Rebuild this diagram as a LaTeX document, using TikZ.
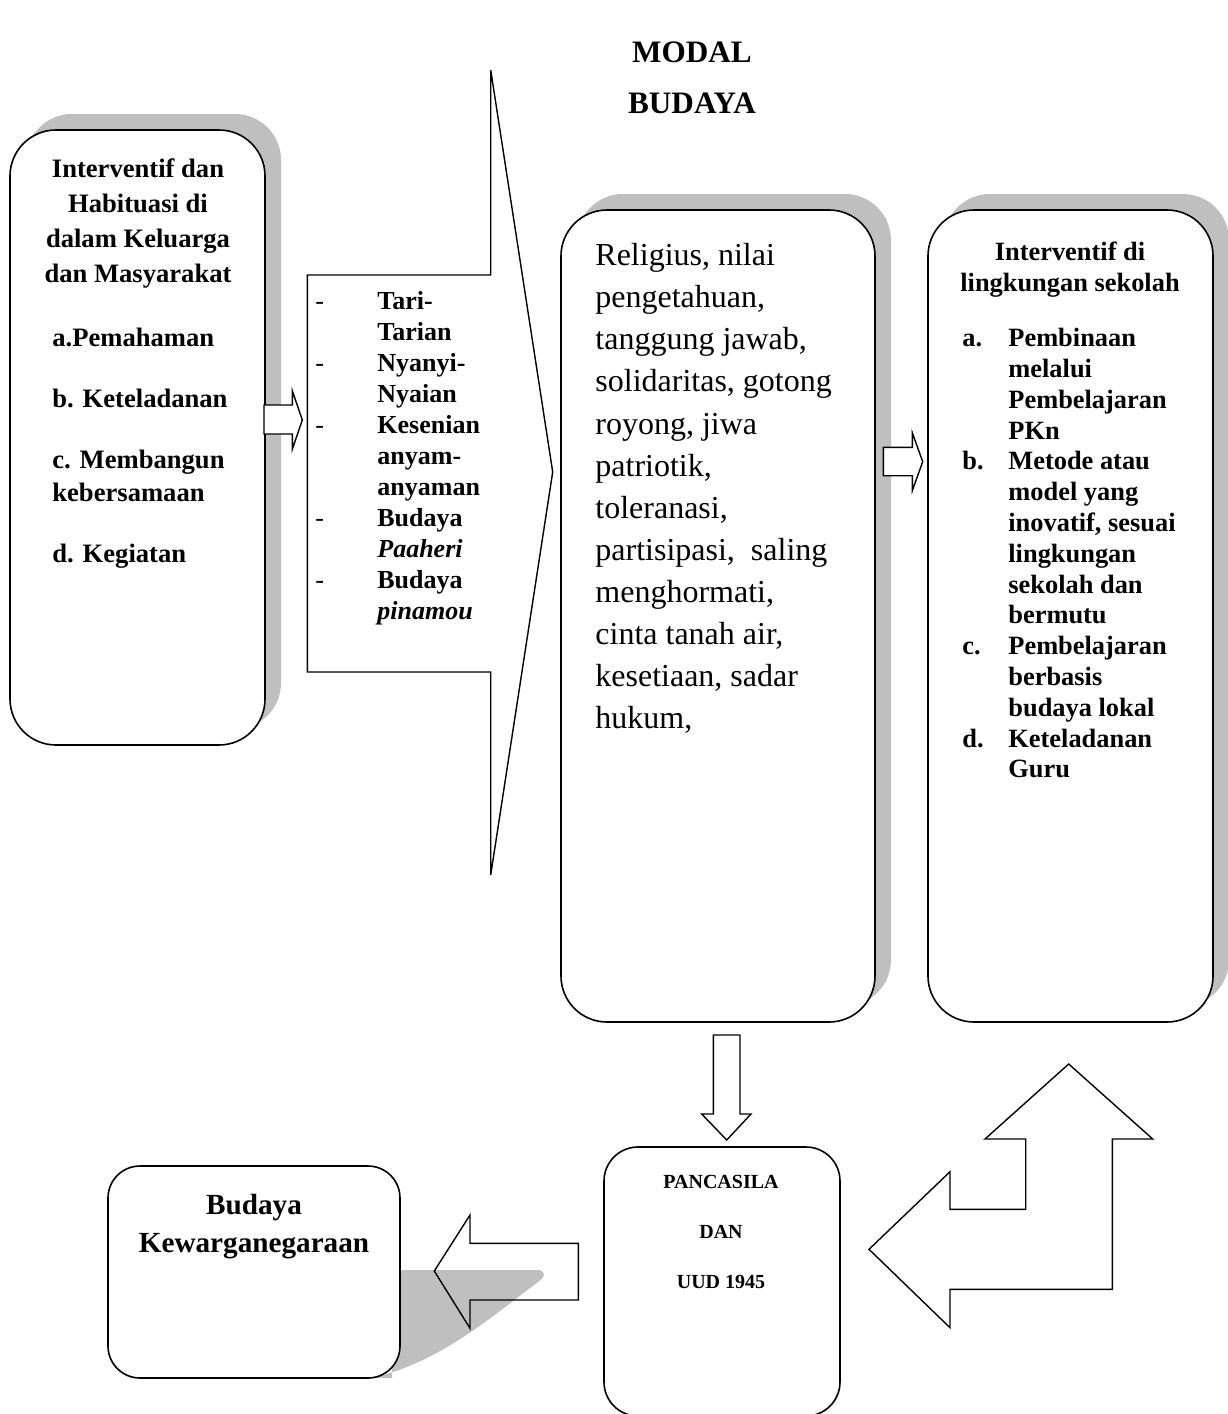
\documentclass[tikz,border=0pt]{standalone}
\usepackage{fontspec}
\setmainfont{Liberation Serif}
\usetikzlibrary{shadows}

\newcommand{\tandaitem}{\makebox[31pt][l]{\mdseries -}}
\newcommand{\labelitem}[1]{\makebox[23pt][l]{#1}}

\begin{document}
\begin{tikzpicture}[x=0.5pt, y=-0.5pt,
    kotak/.style={rectangle, rounded corners=23pt, draw, line width=0.8pt, fill=white,
      drop shadow={shadow xshift=8pt, shadow yshift=8pt, opacity=1, fill=black!25}},
    kotakpolos/.style={rectangle, rounded corners=16pt, draw, line width=0.8pt, fill=white},
    panah/.style={draw, line width=0.7pt, line join=miter},
    teks/.style={inner sep=0pt, font=\fontsize{13.3}{17.5}\selectfont\bfseries}
  ]
    \useasboundingbox (0,0) rectangle (1227,1414);

    % Judul
    \node[font=\fontsize{15.6}{25.5}\selectfont\bfseries, align=center] (judul) at (692,77.5) {MODAL\\BUDAYA};

    % Kotak-kotak utama
    \node[kotak, minimum width=127.5pt, minimum height=307.5pt] (keluarga) at (137.5,437.5) {};
    \node[kotak, minimum width=157pt, minimum height=406pt] (nilai) at (718,616) {};
    \node[kotak, minimum width=142.5pt, minimum height=406pt] (sekolah) at (1070.5,616) {};
    \node[kotakpolos, rounded corners=17pt, minimum width=118pt, minimum height=134.5pt] (pancasila) at (722,1281.5) {};

    % Bayangan miring kotak budaya
    \fill[black!25] (392,1270) -- (537,1270) .. controls (546,1270) and (546,1277) .. (538,1282)
      .. controls (490,1318) and (440,1362) .. (372,1378) -- (392,1378) -- cycle;
    \node[kotakpolos, minimum width=146pt, minimum height=106pt] (budaya) at (254,1272) {};

    % Panah-panah blok
    \draw[panah, fill=white] (264,405) -- (292.3,405) -- (292.3,390.7) -- (302.3,420)
      -- (292.3,449.3) -- (292.3,434) -- (264,434) -- cycle;
    \draw[panah, fill=white] (307.3,275) -- (490.7,275) -- (490.7,70) -- (552.7,472)
      -- (490.7,875) -- (490.7,672) -- (307.3,672) -- cycle;
    \draw[panah, fill=white] (883.3,447.3) -- (912.3,447.3) -- (912.3,432.7) -- (922.7,461.7)
      -- (912.3,490.7) -- (912.3,475.7) -- (883.3,475.7) -- cycle;
    \draw[panah, fill=white] (713.3,1035) -- (740,1035) -- (740,1114) -- (751,1114)
      -- (726.7,1140) -- (701.7,1114) -- (713.3,1114) -- cycle;
    \draw[panah] (578.3,1243.3) -- (470,1243.3) -- (470,1215) -- (434.3,1271)
      -- (470,1328.3) -- (470,1300) -- (578.3,1300) -- cycle;
    \draw[panah] (1068.7,1064) -- (1152.7,1139) -- (1112.3,1139) -- (1112.3,1289.3)
      -- (950,1289.3) -- (950,1327.7) -- (869,1249.3) -- (950,1171.7) -- (950,1209.3)
      -- (1025.7,1209.3) -- (1025.7,1139) -- (985,1139) -- cycle;

    % Isi kotak kiri
    \node[teks, align=center] (keluargajudul) at (138,224)
      {Interventif dan\\Habituasi di\\dalam Keluarga\\dan Masyarakat};
    \node[teks, font=\fontsize{13.3}{16.5}\selectfont\bfseries, align=left, anchor=north west] (keluargaisi) at (52,328)
      {a.Pemahaman\\[14pt]b. Keteladanan\\[14pt]c. Membangun\\kebersamaan\\[14pt]d. Kegiatan};

    % Isi panah besar
    \node[teks, font=\fontsize{13}{15.5}\selectfont\bfseries, align=left, anchor=north west] (kesenian) at (315,291)
      {\tandaitem Tari-\\\hspace*{31pt}Tarian\\\tandaitem Nyanyi-\\\hspace*{31pt}Nyaian\\
       \tandaitem Kesenian\\\hspace*{31pt}anyam-\\\hspace*{31pt}anyaman\\
       \tandaitem Budaya\\\hspace*{31pt}\textit{Paaheri}\\\tandaitem Budaya\\\hspace*{31pt}\textit{pinamou}};

    % Isi kotak tengah
    \node[inner sep=0pt, font=\fontsize{16}{21.05}\selectfont, align=left, anchor=north west] (nilaiisi) at (595,243)
      {Religius, nilai\\pengetahuan,\\tanggung jawab,\\solidaritas, gotong\\royong, jiwa\\patriotik,\\toleranasi,\\
       partisipasi,~ saling\\menghormati,\\cinta tanah air,\\kesetiaan, sadar\\hukum,};

    % Isi kotak kanan
    \node[teks, font=\fontsize{13.2}{15.4}\selectfont\bfseries, align=center] (sekolahjudul) at (1070,270)
      {Interventif di\\lingkungan sekolah};
    \node[teks, font=\fontsize{13.2}{15.4}\selectfont\bfseries, align=left, anchor=north west] (sekolahisi) at (962,328)
      {\labelitem{a.}Pembinaan\\\labelitem{}melalui\\\labelitem{}Pembelajaran\\\labelitem{}PKn\\
       \labelitem{b.}Metode atau\\\labelitem{}model yang\\\labelitem{}inovatif, sesuai\\\labelitem{}lingkungan\\
       \labelitem{}sekolah dan\\\labelitem{}bermutu\\\labelitem{c.}Pembelajaran\\\labelitem{}berbasis\\
       \labelitem{}budaya lokal\\\labelitem{d.}Keteladanan\\\labelitem{}Guru};

    % Isi kotak bawah
    \node[font=\fontsize{10}{25}\selectfont\bfseries, align=center] (pancasilaisi) at (721,1232)
      {PANCASILA\\DAN\\UUD 1945};
    \node[font=\fontsize{14.6}{19}\selectfont\bfseries, align=center] (budayaisi) at (254,1227)
      {Budaya\\Kewarganegaraan};
\end{tikzpicture}
\end{document}
